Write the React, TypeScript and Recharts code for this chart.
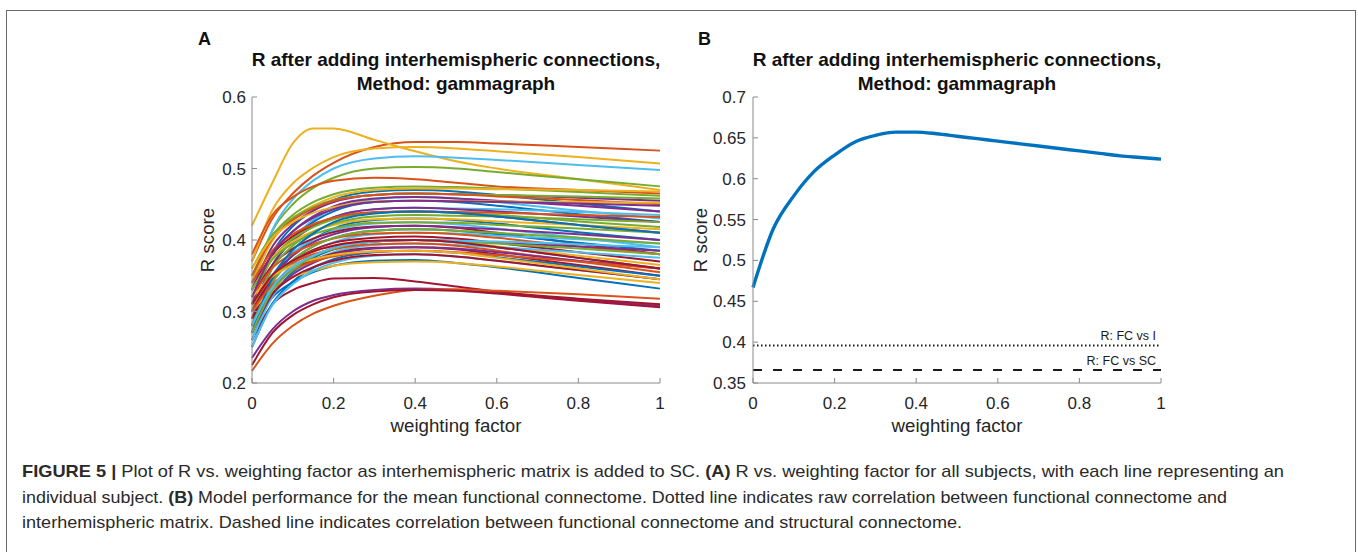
import React from 'react';
import { LineChart, Line, XAxis, YAxis, ReferenceLine } from 'recharts';

// ---------- data ----------
const WEIGHTS = [0, 0.05, 0.1, 0.15, 0.2, 0.3, 0.4, 0.5, 0.6, 0.8, 1.0];

// R score per subject (panel A), one row per subject, sampled at WEIGHTS
const SUBJECT_R: number[][] = [
  [0.28, 0.32, 0.341, 0.355, 0.364, 0.371, 0.372, 0.368, 0.362, 0.347, 0.332],
  [0.37, 0.43, 0.465, 0.49, 0.508, 0.53, 0.537, 0.537, 0.535, 0.53, 0.525],
  [0.42, 0.48, 0.535, 0.556, 0.556, 0.54, 0.524, 0.51, 0.5, 0.485, 0.47],
  [0.235, 0.275, 0.3, 0.315, 0.323, 0.33, 0.332, 0.33, 0.326, 0.316, 0.308],
  [0.34, 0.413, 0.45, 0.473, 0.487, 0.5, 0.502, 0.5, 0.495, 0.485, 0.475],
  [0.33, 0.414, 0.457, 0.483, 0.5, 0.514, 0.517, 0.515, 0.512, 0.505, 0.498],
  [0.26, 0.31, 0.33, 0.34, 0.346, 0.347, 0.342, 0.335, 0.328, 0.318, 0.31],
  [0.31, 0.382, 0.419, 0.441, 0.456, 0.468, 0.47, 0.468, 0.463, 0.451, 0.44],
  [0.217, 0.255, 0.28, 0.297, 0.308, 0.322, 0.33, 0.331, 0.329, 0.324, 0.318],
  [0.37, 0.442, 0.479, 0.501, 0.516, 0.528, 0.53, 0.528, 0.524, 0.516, 0.507],
  [0.33, 0.391, 0.422, 0.441, 0.453, 0.463, 0.465, 0.464, 0.463, 0.459, 0.455],
  [0.35, 0.406, 0.435, 0.453, 0.464, 0.473, 0.475, 0.474, 0.472, 0.467, 0.462],
  [0.28, 0.361, 0.402, 0.428, 0.444, 0.457, 0.46, 0.458, 0.453, 0.441, 0.43],
  [0.225, 0.27, 0.295, 0.31, 0.32, 0.328, 0.33, 0.329, 0.325, 0.315, 0.306],
  [0.29, 0.364, 0.402, 0.425, 0.44, 0.453, 0.455, 0.453, 0.448, 0.436, 0.425],
  [0.38, 0.435, 0.46, 0.475, 0.483, 0.487, 0.485, 0.48, 0.475, 0.47, 0.465],
  [0.34, 0.399, 0.43, 0.448, 0.46, 0.47, 0.472, 0.472, 0.471, 0.47, 0.468],
  [0.31, 0.378, 0.412, 0.433, 0.447, 0.458, 0.46, 0.458, 0.455, 0.448, 0.44],
  [0.36, 0.407, 0.431, 0.446, 0.456, 0.463, 0.465, 0.464, 0.463, 0.461, 0.458],
  [0.3, 0.365, 0.399, 0.419, 0.432, 0.443, 0.445, 0.444, 0.443, 0.439, 0.435],
  [0.33, 0.38, 0.405, 0.42, 0.43, 0.438, 0.44, 0.438, 0.433, 0.421, 0.41],
  [0.27, 0.342, 0.379, 0.401, 0.416, 0.428, 0.43, 0.428, 0.423, 0.411, 0.4],
  [0.35, 0.402, 0.428, 0.444, 0.455, 0.463, 0.465, 0.464, 0.461, 0.456, 0.45],
  [0.36, 0.403, 0.425, 0.438, 0.446, 0.454, 0.455, 0.455, 0.454, 0.453, 0.452],
  [0.3, 0.365, 0.399, 0.419, 0.432, 0.443, 0.445, 0.443, 0.44, 0.433, 0.425],
  [0.32, 0.374, 0.402, 0.418, 0.429, 0.438, 0.44, 0.438, 0.435, 0.426, 0.418],
  [0.29, 0.351, 0.382, 0.401, 0.413, 0.423, 0.425, 0.422, 0.416, 0.403, 0.39],
  [0.32, 0.365, 0.388, 0.402, 0.411, 0.419, 0.42, 0.417, 0.41, 0.395, 0.38],
  [0.28, 0.341, 0.372, 0.391, 0.403, 0.413, 0.415, 0.413, 0.408, 0.396, 0.385],
  [0.34, 0.385, 0.408, 0.422, 0.431, 0.439, 0.44, 0.439, 0.438, 0.435, 0.432],
  [0.33, 0.375, 0.398, 0.412, 0.421, 0.429, 0.43, 0.429, 0.426, 0.421, 0.415],
  [0.29, 0.349, 0.378, 0.397, 0.408, 0.418, 0.42, 0.418, 0.415, 0.408, 0.4],
  [0.3, 0.361, 0.392, 0.411, 0.423, 0.433, 0.435, 0.434, 0.433, 0.429, 0.425],
  [0.27, 0.333, 0.365, 0.385, 0.397, 0.408, 0.41, 0.409, 0.406, 0.401, 0.395],
  [0.3, 0.347, 0.371, 0.386, 0.396, 0.403, 0.405, 0.402, 0.396, 0.383, 0.37],
  [0.26, 0.323, 0.355, 0.375, 0.387, 0.398, 0.4, 0.397, 0.39, 0.375, 0.36],
  [0.32, 0.361, 0.381, 0.394, 0.402, 0.409, 0.41, 0.408, 0.403, 0.391, 0.38],
  [0.31, 0.351, 0.371, 0.384, 0.392, 0.399, 0.4, 0.397, 0.391, 0.378, 0.365],
  [0.28, 0.334, 0.362, 0.378, 0.389, 0.398, 0.4, 0.399, 0.396, 0.391, 0.385],
  [0.33, 0.373, 0.395, 0.408, 0.416, 0.424, 0.425, 0.424, 0.421, 0.416, 0.41],
  [0.26, 0.321, 0.352, 0.371, 0.383, 0.393, 0.395, 0.393, 0.39, 0.383, 0.375],
  [0.29, 0.335, 0.358, 0.372, 0.381, 0.389, 0.39, 0.387, 0.38, 0.365, 0.35],
  [0.25, 0.311, 0.342, 0.361, 0.373, 0.383, 0.385, 0.382, 0.376, 0.363, 0.35],
  [0.31, 0.348, 0.368, 0.38, 0.387, 0.394, 0.395, 0.392, 0.385, 0.37, 0.355],
  [0.3, 0.332, 0.348, 0.357, 0.364, 0.369, 0.37, 0.368, 0.363, 0.351, 0.34],
  [0.27, 0.324, 0.352, 0.368, 0.379, 0.388, 0.39, 0.388, 0.383, 0.371, 0.36],
  [0.28, 0.341, 0.372, 0.391, 0.403, 0.413, 0.415, 0.413, 0.41, 0.403, 0.395],
  [0.25, 0.309, 0.338, 0.357, 0.368, 0.378, 0.38, 0.377, 0.371, 0.358, 0.345],
  [0.28, 0.325, 0.348, 0.362, 0.371, 0.379, 0.38, 0.377, 0.371, 0.358, 0.345],
  [0.27, 0.347, 0.386, 0.409, 0.425, 0.437, 0.44, 0.438, 0.433, 0.421, 0.41],
  [0.3, 0.338, 0.358, 0.37, 0.377, 0.384, 0.385, 0.383, 0.379, 0.37, 0.36],
  [0.32, 0.349, 0.364, 0.373, 0.379, 0.384, 0.385, 0.382, 0.375, 0.36, 0.345],
  [0.32, 0.381, 0.412, 0.431, 0.443, 0.453, 0.455, 0.454, 0.453, 0.451, 0.448],
  [0.27, 0.329, 0.358, 0.377, 0.388, 0.398, 0.4, 0.398, 0.395, 0.388, 0.38],
  [0.28, 0.334, 0.362, 0.378, 0.389, 0.398, 0.4, 0.399, 0.398, 0.394, 0.39],
  [0.31, 0.351, 0.371, 0.384, 0.392, 0.399, 0.4, 0.397, 0.39, 0.375, 0.36],
];

// Panel B: mean functional connectome
const MEAN_WEIGHTS = [0, 0.05, 0.1, 0.15, 0.2, 0.25, 0.3, 0.35, 0.4, 0.45, 0.5, 0.55, 0.6, 0.65, 0.7, 0.75, 0.8, 0.85, 0.9, 0.95, 1.0];
const MEAN_R = [0.467, 0.539, 0.579, 0.609, 0.629, 0.645, 0.653, 0.657, 0.657, 0.655, 0.652, 0.649, 0.646, 0.643, 0.64, 0.637, 0.634, 0.631, 0.628, 0.626, 0.624];
const R_FC_VS_I = 0.396;
const R_FC_VS_SC = 0.366;

const X_TICKS = [0, 0.2, 0.4, 0.6, 0.8, 1];
const Y_TICKS_A = [0.2, 0.3, 0.4, 0.5, 0.6];
const Y_TICKS_B = [0.35, 0.4, 0.45, 0.5, 0.55, 0.6, 0.65, 0.7];

const TITLE_1 = 'R after adding interhemispheric connections,';
const TITLE_2 = 'Method: gammagraph';
const X_LABEL = 'weighting factor';
const Y_LABEL = 'R score';

// ---------- styles ----------
const MATLAB_COLORS = ['#0072BD', '#D95319', '#EDB120', '#7E2F8E', '#77AC30', '#4DBEEE', '#A2142F'];
const FONT = "'Liberation Sans', Arial, Helvetica, sans-serif";
const AXIS = '#8a8a8a';
const TXT = '#262626';

const rowsA = WEIGHTS.map((w, j) => {
  const row: Record<string, number> = { w };
  SUBJECT_R.forEach((c, i) => {
    row['s' + i] = c[j];
  });
  return row;
});
const rowsB = MEAN_WEIGHTS.map((w, j) => ({ w, r: MEAN_R[j] }));

const fmt = (v: number) => String(v);

function axes(yDomain: [number, number], yTicks: number[], yWidth: number, yMargin: number) {
  return [
    <XAxis
      key="xb"
      xAxisId="b"
      type="number"
      dataKey="w"
      domain={[0, 1]}
      ticks={X_TICKS}
      interval={0}
      orientation="bottom"
      height={77}
      tickSize={-5}
      tickMargin={19}
      stroke={AXIS}
      tick={{ fontSize: 17, fill: TXT }}
      tickFormatter={fmt}
    />,
    <XAxis
      key="xt"
      xAxisId="t"
      type="number"
      dataKey="w"
      domain={[0, 1]}
      ticks={X_TICKS}
      interval={0}
      orientation="top"
      height={0}
      tickSize={-5}
      tick={false}
      stroke={AXIS}
    />,
    <YAxis
      key="yl"
      yAxisId="l"
      type="number"
      domain={yDomain}
      ticks={yTicks}
      interval={0}
      orientation="left"
      width={yWidth}
      tickSize={-5}
      tickMargin={yMargin}
      stroke={AXIS}
      tick={{ fontSize: 17, fill: TXT }}
      tickFormatter={fmt}
    />,
    <YAxis
      key="yr"
      yAxisId="r"
      type="number"
      domain={yDomain}
      ticks={yTicks}
      interval={0}
      orientation="right"
      width={0}
      tickSize={-5}
      tick={false}
      stroke={AXIS}
    />,
  ];
}

export default function App() {
  const captionStyle = { fontSize: 17, fill: '#2a2a2a' } as const;
  return (
    <div
      style={{
        position: 'absolute',
        left: 0,
        top: 0,
        width: 1358,
        height: 552,
        background: '#fff',
        overflow: 'hidden',
        fontFamily: FONT,
      }}
    >
      <div
        style={{
          position: 'absolute',
          left: 6,
          top: 10,
          width: 1348,
          height: 600,
          border: '1.5px solid #6a6a6a',
        }}
      />

      <div style={{ position: 'absolute', left: 150, top: 40 }}>
        <LineChart width={530} height={420} data={rowsA} margin={{ top: 57, right: 20, bottom: 0, left: 0 }}>
          {axes([0.2, 0.6], Y_TICKS_A, 102, 11)}
          {SUBJECT_R.map((_, i) => (
            <Line
              key={i}
              xAxisId="b"
              yAxisId="l"
              type="monotone"
              dataKey={'s' + i}
              stroke={MATLAB_COLORS[i % MATLAB_COLORS.length]}
              strokeWidth={2}
              dot={false}
              activeDot={false}
              isAnimationActive={false}
            />
          ))}
        </LineChart>
      </div>

      <div style={{ position: 'absolute', left: 650, top: 40 }}>
        <LineChart width={530} height={420} data={rowsB} margin={{ top: 57, right: 19, bottom: 0, left: 0 }}>
          {axes([0.35, 0.7], Y_TICKS_B, 103, 12)}
          <ReferenceLine
            xAxisId="b"
            yAxisId="l"
            y={R_FC_VS_I}
            stroke="#1a1a1a"
            strokeWidth={2}
            strokeDasharray="1.5 2.5"
            label={{ value: 'R: FC vs I', position: 'insideBottomRight', offset: 5, fill: '#1a1a1a', fontSize: 12.5 }}
          />
          <ReferenceLine
            xAxisId="b"
            yAxisId="l"
            y={R_FC_VS_SC}
            stroke="#1a1a1a"
            strokeWidth={2}
            strokeDasharray="9 11"
            label={{ value: 'R: FC vs SC', position: 'insideBottomRight', offset: 5, fill: '#1a1a1a', fontSize: 12.5 }}
          />
          <Line
            xAxisId="b"
            yAxisId="l"
            type="monotone"
            dataKey="r"
            stroke="#0072BD"
            strokeWidth={3.4}
            strokeLinejoin="round"
            dot={false}
            activeDot={false}
            isAnimationActive={false}
          />
        </LineChart>
      </div>

      <svg
        width={1358}
        height={552}
        style={{ position: 'absolute', left: 0, top: 0, pointerEvents: 'none' }}
        fontFamily={FONT}
      >
        <text x={198} y={45} fontSize={18} fontWeight="bold" fill="#111">A</text>
        <text x={698} y={45} fontSize={18} fontWeight="bold" fill="#111">B</text>

        {[456, 957].map((cx) => (
          <g key={cx}>
            <text x={cx} y={66} textAnchor="middle" fontSize={19} fontWeight="bold" fill="#111">{TITLE_1}</text>
            <text x={cx} y={90} textAnchor="middle" fontSize={19} fontWeight="bold" fill="#111">{TITLE_2}</text>
            <text x={cx} y={432} textAnchor="middle" fontSize={18.7} fill={TXT}>{X_LABEL}</text>
          </g>
        ))}
        <text transform="translate(214,240) rotate(-90)" textAnchor="middle" fontSize={18.7} fill={TXT}>{Y_LABEL}</text>
        <text transform="translate(707,240) rotate(-90)" textAnchor="middle" fontSize={18.7} fill={TXT}>{Y_LABEL}</text>

        <text x={22} y={477} {...captionStyle} textLength={1262} lengthAdjust="spacingAndGlyphs">
          <tspan fontWeight="bold">FIGURE 5 |</tspan>
          <tspan> Plot of R vs. weighting factor as interhemispheric matrix is added to SC. </tspan>
          <tspan fontWeight="bold">(A)</tspan>
          <tspan> R vs. weighting factor for all subjects, with each line representing an</tspan>
        </text>
        <text x={22} y={503} {...captionStyle} textLength={1205} lengthAdjust="spacingAndGlyphs">
          <tspan>individual subject. </tspan>
          <tspan fontWeight="bold">(B)</tspan>
          <tspan> Model performance for the mean functional connectome. Dotted line indicates raw correlation between functional connectome and</tspan>
        </text>
        <text x={22} y={528} {...captionStyle} textLength={940} lengthAdjust="spacingAndGlyphs">
          interhemispheric matrix. Dashed line indicates correlation between functional connectome and structural connectome.
        </text>
      </svg>
    </div>
  );
}
